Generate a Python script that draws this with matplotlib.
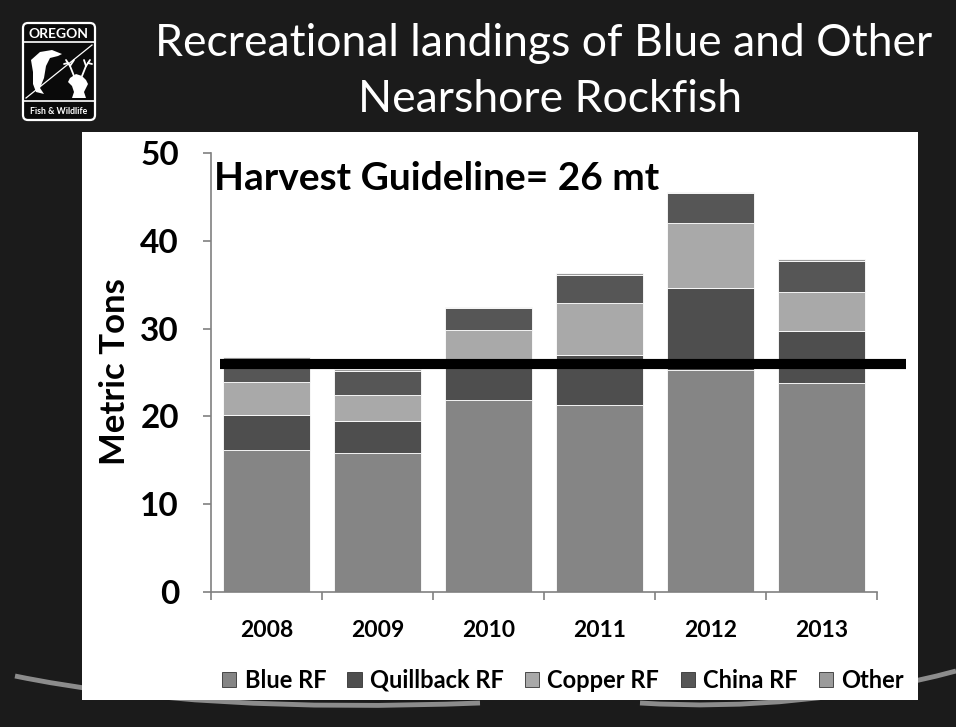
import matplotlib
matplotlib.use("Agg")
import matplotlib.pyplot as plt
import numpy as np
from matplotlib.patches import Rectangle, FancyBboxPatch, Polygon, PathPatch
from matplotlib.path import Path

plt.rcParams["font.family"] = ["Lato", "DejaVu Sans"]

# Recreational landings (metric tons) by species group
years = ["2008", "2009", "2010", "2011", "2012", "2013"]
blue_rf = [16.2, 15.8, 21.9, 21.3, 25.3, 23.8]
quillback_rf = [4.0, 3.7, 4.1, 5.7, 9.3, 5.9]
copper_rf = [3.7, 2.9, 3.8, 5.9, 7.4, 4.5]
china_rf = [2.6, 2.8, 2.5, 3.2, 3.4, 3.5]
other = [0.3, 0.2, 0.2, 0.2, 0.2, 0.2]
series_names = ["Blue RF", "Quillback RF", "Copper RF", "China RF", "Other"]
harvest_guideline = 26

series_values = [blue_rf, quillback_rf, copper_rf, china_rf, other]
series_colors = ["#858585", "#4e4e4e", "#a9a9a9", "#565656", "#9b9b9b"]

W, H = 956, 727
fig = plt.figure(figsize=(W / 100, H / 100), dpi=100)
fig.patch.set_facecolor("#1b1b1b")

# Slide layer in pixel coordinates (y downward)
bg = fig.add_axes([0, 0, 1, 1], zorder=0)
bg.set_xlim(0, W)
bg.set_ylim(H, 0)
bg.axis("off")

# Decorative swooshes along the bottom of the slide
for verts in ([(15, 676), (200, 714), (480, 703)],
              [(640, 703), (800, 713), (956, 671)]):
    p = Path(verts, [Path.MOVETO, Path.CURVE3, Path.CURVE3])
    bg.add_patch(PathPatch(p, facecolor="none", edgecolor="#8c8c8c", lw=3.5, zorder=1))

# White content panel
bg.add_patch(Rectangle((82, 132), 918 - 82, 700 - 132, facecolor="white",
                       edgecolor="none", zorder=2))

# Agency logo
bg.add_patch(FancyBboxPatch((23, 23), 72, 97, boxstyle="round,pad=0,rounding_size=5",
                            facecolor="#0a0a0a", edgecolor="white", lw=1.6, zorder=3))
bg.plot([23, 95], [42, 42], color="white", lw=1.2, zorder=4)
bg.plot([23, 95], [101, 101], color="white", lw=1.2, zorder=4)
bg.plot([26, 92], [98, 45], color="white", lw=0.9, zorder=4)
bg.text(59, 33.5, "OREGON", color="white", fontsize=10, fontweight="bold",
        ha="center", va="center", zorder=5)
bg.text(59, 111, "Fish & Wildlife", color="white", fontsize=6.3, fontweight="bold",
        ha="center", va="center", zorder=5)
fish = [(31, 60), (40, 52), (52, 50), (62, 54), (58, 56), (50, 58), (46, 66),
        (44, 78), (40, 88), (44, 94), (36, 92), (33, 84), (33, 72)]
bg.add_patch(Polygon(fish, closed=True, facecolor="white", edgecolor="none", zorder=5))
deer = [(70, 78), (76, 74), (82, 76), (86, 80), (88, 84), (86, 88), (84, 92),
        (86, 98), (72, 98), (74, 92), (72, 86), (68, 82)]
bg.add_patch(Polygon(deer, closed=True, facecolor="white", edgecolor="none", zorder=5))
for seg in ([(74, 76), (70, 66), (66, 60)], [(70, 66), (74, 60)], [(68, 63), (64, 64)],
            [(82, 76), (86, 66), (90, 60)], [(86, 66), (84, 60)], [(88, 63), (92, 64)]):
    xs, ys = zip(*seg)
    bg.plot(xs, ys, color="white", lw=1.3, zorder=5, solid_capstyle="round")

# Slide title
bg.text(544, 44, "Recreational landings of Blue and Other", color="white",
        fontsize=32, ha="center", va="center", zorder=5)
bg.text(550, 100, "Nearshore Rockfish", color="white",
        fontsize=32, ha="center", va="center", zorder=5)

# Chart axes
ax = fig.add_axes([211 / W, 1 - 592 / H, (877 - 211) / W, (592 - 153) / H], zorder=3)
ax.set_facecolor("none")
x = np.arange(len(years))
bottom = np.zeros(len(years))
for name, vals, col in zip(series_names, series_values, series_colors):
    ax.bar(x, vals, 0.78, bottom=bottom, color=col, edgecolor="white",
           linewidth=0.6, label=name, zorder=2)
    bottom += np.array(vals)

ax.set_xlim(-0.5, len(years) - 0.5)
ax.set_ylim(0, 50)
ax.set_yticks(range(0, 51, 10))
ax.set_xticks(x)
ax.set_xticklabels(years)
ax.set_xticks(np.arange(-0.5, len(years)), minor=True)
for s in ("top", "right"):
    ax.spines[s].set_visible(False)
for s in ("left", "bottom"):
    ax.spines[s].set_color("#808080")
    ax.spines[s].set_linewidth(1.2)
ax.tick_params(axis="y", length=6, width=1.2, color="#808080", pad=17,
               labelsize=24)
ax.tick_params(axis="x", which="major", length=0, pad=20, labelsize=16.5)
ax.tick_params(axis="x", which="minor", length=6, width=1.2, color="#808080")
for lab in ax.get_xticklabels() + ax.get_yticklabels():
    lab.set_fontweight("bold")

# Harvest guideline
ax.plot([-0.42, 5.76], [harvest_guideline, harvest_guideline], color="black",
        lw=7.3, solid_capstyle="butt", clip_on=False, zorder=5)
ax.text(0.004, 0.943, f"Harvest Guideline= {harvest_guideline} mt",
        transform=ax.transAxes, fontsize=28, fontweight="bold", color="black",
        ha="left", va="center", zorder=6)

fig.text(115 / W, 1 - 372 / H, "Metric Tons", rotation=90, fontsize=25,
         fontweight="bold", ha="center", va="center", zorder=6)

handles, labels = ax.get_legend_handles_labels()
leg = fig.legend(handles, labels, loc="center", bbox_to_anchor=(563 / W, 1 - 680 / H),
                 ncol=5, frameon=False, fontsize=17, handlelength=0.6,
                 handleheight=0.6, handletextpad=0.35, columnspacing=0.9)
for t in leg.get_texts():
    t.set_fontweight("bold")
for h in leg.legend_handles:
    h.set_edgecolor("#333333")
    h.set_linewidth(0.6)

fig.savefig("out.png", dpi=100, facecolor=fig.get_facecolor())
